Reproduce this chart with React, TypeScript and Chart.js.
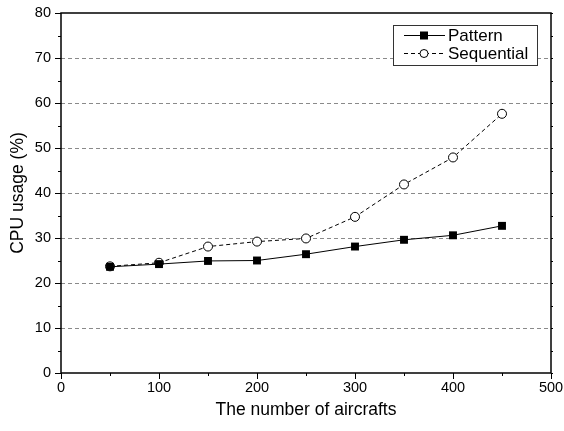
import React, { useEffect, useRef } from "react";
import { Chart, registerables } from "chart.js";

Chart.register(...registerables);

const aircrafts = [50, 100, 150, 200, 250, 300, 350, 400, 450];
const patternUsage = [23.6, 24.2, 24.9, 25.0, 26.4, 28.1, 29.6, 30.6, 32.7];
const sequentialUsage = [23.7, 24.5, 28.1, 29.2, 29.9, 34.7, 41.9, 47.9, 57.6];
const seriesNames = ["Pattern", "Sequential"];
const xTitle = "The number of aircrafts";
const yTitle = "CPU usage (%)";

const FONT = "'Liberation Sans', Arial, sans-serif";

const framePlugin = {
  id: "frameTicks",
  afterDatasetsDraw(chart: any) {
    const { ctx, chartArea: a, scales } = chart;
    const xs = scales.x;
    const ys = scales.y;
    ctx.save();
    ctx.strokeStyle = "#000";
    ctx.lineWidth = 1;
    // x ticks
    for (let v = 0; v <= 500; v += 50) {
      const px = Math.round(xs.getPixelForValue(v)) + 0.5;
      const len = v % 100 === 0 ? 6 : 3;
      ctx.beginPath();
      ctx.moveTo(px, a.bottom);
      ctx.lineTo(px, a.bottom + len);
      ctx.stroke();
    }
    // y ticks
    for (let v = 0; v <= 80; v += 5) {
      const py = Math.round(ys.getPixelForValue(v)) + 0.5;
      const len = v % 10 === 0 ? 6 : 3;
      ctx.beginPath();
      ctx.moveTo(a.left, py);
      ctx.lineTo(a.left - len, py);
      ctx.stroke();
      ctx.beginPath();
      ctx.moveTo(a.right, py);
      ctx.lineTo(a.right + 2, py);
      ctx.stroke();
    }
    // frame
    ctx.lineWidth = 1.5;
    ctx.strokeRect(a.left, a.top, a.right - a.left, a.bottom - a.top);

    // legend
    const lx = 393, ly = 25, lw = 144, lh = 40;
    ctx.fillStyle = "#fff";
    ctx.fillRect(lx, ly, lw, lh);
    ctx.lineWidth = 1;
    ctx.strokeStyle = "#333";
    ctx.strokeRect(lx + 0.5, ly + 0.5, lw, lh);
    const rows = [35, 53];
    chart.data.datasets.forEach((ds: any, i: number) => {
      const y = rows[i] + 0.5;
      ctx.save();
      ctx.strokeStyle = ds.borderColor;
      ctx.lineWidth = ds.borderWidth;
      ctx.setLineDash(ds.borderDash || []);
      ctx.beginPath();
      ctx.moveTo(404, y);
      ctx.lineTo(445, y);
      ctx.stroke();
      ctx.restore();
      ctx.save();
      ctx.setLineDash([]);
      ctx.fillStyle = ds.pointBackgroundColor;
      ctx.strokeStyle = ds.pointBorderColor;
      ctx.lineWidth = 1;
      if (ds.pointStyle === "rect") {
        ctx.fillRect(420, y - 4, 8, 8);
      } else {
        ctx.beginPath();
        ctx.arc(424, y, 4, 0, Math.PI * 2);
        ctx.fill();
        ctx.stroke();
      }
      ctx.restore();
      ctx.fillStyle = "#000";
      ctx.font = `17px ${FONT}`;
      ctx.textBaseline = "middle";
      ctx.textAlign = "left";
      ctx.fillText(ds.label, 448, y + 1);
    });
    ctx.restore();
  },
};

export default function App() {
  const ref = useRef<HTMLCanvasElement>(null);
  useEffect(() => {
    const chart = new Chart(ref.current as HTMLCanvasElement, {
      type: "line",
      data: {
        datasets: [
          {
            label: seriesNames[0],
            data: aircrafts.map((x, i) => ({ x, y: patternUsage[i] })),
            borderColor: "#000",
            borderWidth: 1,
            pointStyle: "rect",
            pointRadius: 5.6,
            pointBackgroundColor: "#000",
            pointBorderColor: "#000",
            pointBorderWidth: 0,
          },
          {
            label: seriesNames[1],
            data: aircrafts.map((x, i) => ({ x, y: sequentialUsage[i] })),
            borderColor: "#000",
            borderWidth: 1,
            borderDash: [4, 3],
            pointStyle: "circle",
            pointRadius: 4.5,
            pointBackgroundColor: "#fff",
            pointBorderColor: "#000",
            pointBorderWidth: 1,
          },
        ],
      },
      options: {
        responsive: false,
        animation: false,
        layout: { padding: { top: 13, right: 13, left: 0, bottom: 0 } },
        plugins: { legend: { display: false }, tooltip: { enabled: false } },
        scales: {
          x: {
            type: "linear",
            min: 0,
            max: 500,
            afterFit: (s: any) => {
              s.height = 58;
              s.paddingLeft = 0;
              s.paddingRight = 0;
            },
            ticks: {
              stepSize: 100,
              color: "#000",
              padding: 6,
              maxRotation: 0,
              font: { family: FONT, size: 14.5 },
            },
            grid: { display: false, drawTicks: false },
            border: { display: false },
            title: {
              display: true,
              text: xTitle,
              color: "#000",
              font: { family: FONT, size: 17.5 },
              padding: { top: 0, bottom: 10 },
            },
          },
          y: {
            min: 0,
            max: 80,
            afterFit: (s: any) => {
              s.width = 61;
              s.paddingTop = 0;
              s.paddingBottom = 0;
            },
            ticks: {
              stepSize: 10,
              color: "#000",
              padding: 10,
              font: { family: FONT, size: 14.5 },
            },
            grid: {
              drawTicks: false,
              color: (c: any) =>
                c.tick && (c.tick.value === 0 || c.tick.value === 80)
                  ? "rgba(0,0,0,0)"
                  : "#8a8a8a",
              lineWidth: 1,
            },
            border: { display: false, dash: [4, 3] },
            title: {
              display: true,
              text: yTitle,
              color: "#000",
              font: { family: FONT, size: 17.5 },
              padding: { top: 8, bottom: 0 },
            },
          },
        },
      },
      plugins: [framePlugin],
    } as any);
    return () => chart.destroy();
  }, []);
  return (
    <div style={{ position: "absolute", left: 0, top: 0, width: 564, height: 431, background: "#fff" }}>
      <canvas ref={ref} width={564} height={431} />
    </div>
  );
}
